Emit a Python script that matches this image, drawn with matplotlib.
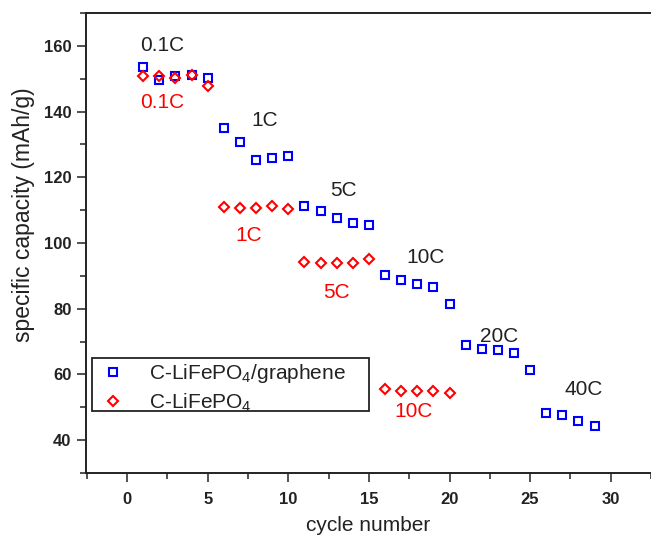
import matplotlib
matplotlib.use("Agg")
import matplotlib.pyplot as plt
from matplotlib.ticker import MultipleLocator
from matplotlib.patches import Rectangle

plt.rcParams['font.family'] = ['Liberation Sans', 'DejaVu Sans']
plt.rcParams['mathtext.default'] = 'regular'

# Data
cycles_graphene = list(range(1, 30))
cap_graphene = [153.6, 149.7, 150.9, 151.0, 150.1,
                135.0, 130.6, 125.4, 125.9, 126.4,
                111.3, 109.7, 107.5, 106.0, 105.4,
                90.4, 88.7, 87.4, 86.7, 81.4,
                69.1, 67.7, 67.3, 66.6, 61.3,
                48.4, 47.6, 45.9, 44.4]
cycles_lfp = list(range(1, 21))
cap_lfp = [150.8, 150.8, 150.3, 151.1, 147.7,
           111.1, 110.6, 110.6, 111.3, 110.5,
           94.1, 93.8, 93.8, 94.0, 95.2,
           55.7, 55.0, 55.0, 55.0, 54.5]

labels_graphene = ['0.1C', '1C', '5C', '10C', '20C', '40C']
label_pos_graphene = [(2.2, 160.1), (8.55, 137.3), (13.4, 116.0), (18.5, 95.7), (23.1, 71.5), (28.3, 55.4)]
labels_lfp = ['0.1C', '1C', '5C', '10C']
label_pos_lfp = [(2.15, 142.9), (7.55, 102.4), (13.0, 84.8), (17.8, 48.7)]

W, H = 651, 536
fig = plt.figure(figsize=(W/100, H/100), dpi=100)
ax_l, ax_r, ax_t, ax_b = 86, 651, 13, 473
ax = fig.add_axes([ax_l/W, 1 - ax_b/H, (ax_r - ax_l)/W, (ax_b - ax_t)/H])

ax.plot(cycles_graphene, cap_graphene, linestyle='none', marker='s', markersize=6.3,
        markerfacecolor='none', markeredgecolor='#0000ff', markeredgewidth=1.5,
        label='C-LiFePO$_4$/graphene')
ax.plot(cycles_lfp, cap_lfp, linestyle='none', marker='D', markersize=5.0,
        markerfacecolor='none', markeredgecolor='#ff0000', markeredgewidth=1.5,
        label='C-LiFePO$_4$')

for t, (x, y) in zip(labels_graphene, label_pos_graphene):
    ax.text(x, y, t, color='#222222', fontsize=15, ha='center', va='center')
for t, (x, y) in zip(labels_lfp, label_pos_lfp):
    ax.text(x, y, t, color='#ff0000', fontsize=15, ha='center', va='center')

ax.set_xlim(-2.55, 32.5)
ax.set_ylim(30, 170)
ax.xaxis.set_major_locator(MultipleLocator(5))
ax.xaxis.set_minor_locator(MultipleLocator(2.5))
ax.yaxis.set_minor_locator(MultipleLocator(10))
ax.set_yticks([40, 60, 80, 100, 120, 140, 160])

ax.spines['right'].set_visible(False)
for s in ['left', 'bottom', 'top']:
    ax.spines[s].set_linewidth(1.4)
    ax.spines[s].set_color('#222222')

ax.tick_params(axis='both', which='major', direction='out', length=6.5, width=1.1,
               labelsize=12, colors='#222222')
ax.tick_params(axis='y', which='major', pad=4)
ax.tick_params(axis='x', which='major', pad=7)
ax.tick_params(axis='both', which='minor', direction='out', length=4, width=1.1, colors='#222222')
ax.tick_params(top=False, right=False, which='both')
for lab in ax.get_xticklabels() + ax.get_yticklabels():
    lab.set_fontweight('bold')

aw, ah = ax_r - ax_l, ax_b - ax_t
ax.set_xlabel('cycle number', fontsize=15, color='#222222')
ax.xaxis.set_label_coords(0.5, -(535 - ax_b)/ah)
ax.xaxis.label.set_va('bottom')
ax.set_ylabel('specific capacity (mAh/g)', fontsize=16.5, color='#222222')
ax.yaxis.set_label_coords(-(ax_l - 35)/aw, (ax_b - 215)/ah)

# legend (frame drawn separately to match the reference box)
leg = ax.legend(loc='upper left', bbox_to_anchor=((96 - ax_l)/aw, (ax_b - 362)/ah),
                fontsize=15, frameon=False,
                borderpad=0.0, labelspacing=0.3, handletextpad=0.95, handlelength=1.6,
                borderaxespad=0)
for t in leg.get_texts():
    t.set_color('#222222')
ax.add_patch(Rectangle(((91.7 - ax_l)/aw, (ax_b - 410.7)/ah), (369 - 91.7)/aw, (410.7 - 357.7)/ah,
                       transform=ax.transAxes, fill=False, edgecolor='#222222', linewidth=1.3,
                       zorder=5))

fig.savefig('out.png', dpi=100)
